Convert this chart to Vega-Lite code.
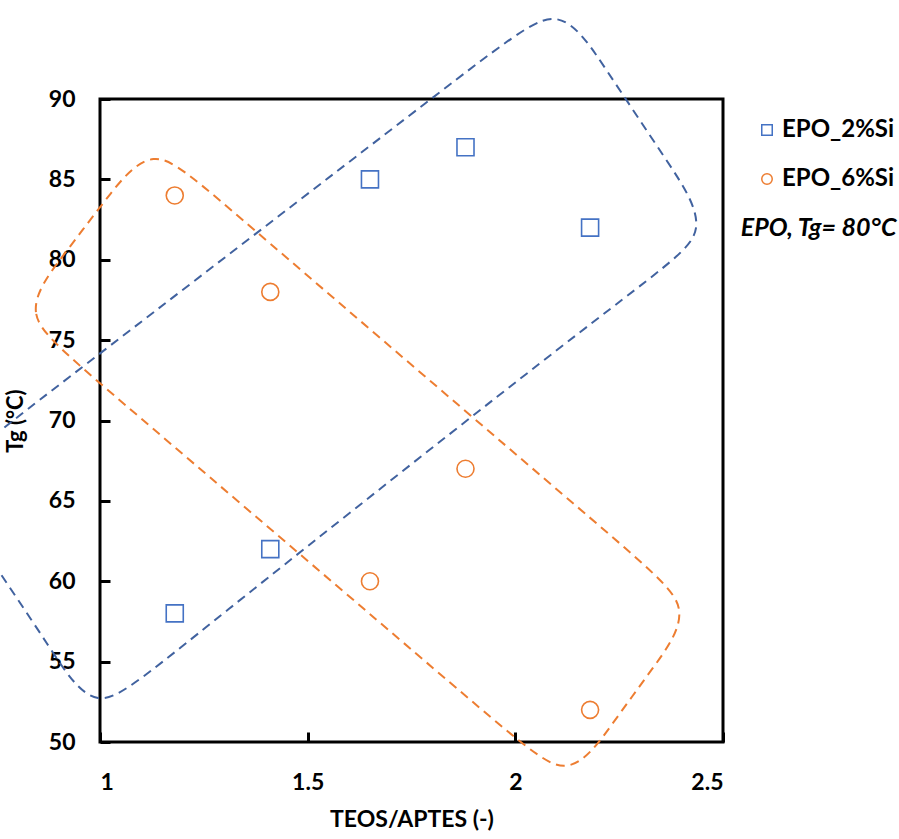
{
  "$schema": "https://vega.github.io/schema/vega-lite/v6.json",
  "width": 623,
  "height": 643,
  "autosize": {"type": "none"},
  "padding": {"left": 100, "top": 99, "right": 176, "bottom": 97},
  "background": "white",
  "config": {
    "font": "Lato",
    "view": {"stroke": "black", "strokeWidth": 3},
    "axis": {"grid": false, "domain": false, "labelFont": "Lato", "labelFontWeight": "bold", "labelColor": "black", "titleFont": "Lato", "titleFontWeight": "bold", "titleColor": "black", "tickColor": "black", "tickWidth": 3}
  },
  "datasets": {
    "outline": [
      {"shape": "EPO_2%Si", "i": 0, "x": 0.7145, "y": 62.23},
      {"shape": "EPO_2%Si", "i": 1, "x": 0.6069, "y": 66.36},
      {"shape": "EPO_2%Si", "i": 2, "x": 0.7598, "y": 69.40},
      {"shape": "EPO_2%Si", "i": 3, "x": 1.954, "y": 93.12},
      {"shape": "EPO_2%Si", "i": 4, "x": 2.107, "y": 96.16},
      {"shape": "EPO_2%Si", "i": 5, "x": 2.2137, "y": 92.02},
      {"shape": "EPO_2%Si", "i": 6, "x": 2.3642, "y": 86.18},
      {"shape": "EPO_2%Si", "i": 7, "x": 2.4811, "y": 81.64},
      {"shape": "EPO_2%Si", "i": 8, "x": 2.3199, "y": 78.95},
      {"shape": "EPO_2%Si", "i": 9, "x": 1.1391, "y": 54.83},
      {"shape": "EPO_2%Si", "i": 10, "x": 0.9879, "y": 51.44},
      {"shape": "EPO_2%Si", "i": 11, "x": 0.8804, "y": 55.87},
      {"shape": "EPO_6%Si", "i": 0, "x": 0.9421, "y": 73.59},
      {"shape": "EPO_6%Si", "i": 1, "x": 0.8047, "y": 76.63},
      {"shape": "EPO_6%Si", "i": 2, "x": 0.9139, "y": 80.35},
      {"shape": "EPO_6%Si", "i": 3, "x": 1.0113, "y": 83.67},
      {"shape": "EPO_6%Si", "i": 4, "x": 1.1256, "y": 87.39},
      {"shape": "EPO_6%Si", "i": 5, "x": 1.2578, "y": 84.35},
      {"shape": "EPO_6%Si", "i": 6, "x": 2.2977, "y": 61.34},
      {"shape": "EPO_6%Si", "i": 7, "x": 2.4349, "y": 58.30},
      {"shape": "EPO_6%Si", "i": 8, "x": 2.3288, "y": 54.52},
      {"shape": "EPO_6%Si", "i": 9, "x": 2.2347, "y": 51.17},
      {"shape": "EPO_6%Si", "i": 10, "x": 2.1286, "y": 47.39},
      {"shape": "EPO_6%Si", "i": 11, "x": 1.9911, "y": 50.42}
    ],
    "points": [
      {"series": "EPO_2%Si", "ratio": 1.18, "tg": 58},
      {"series": "EPO_2%Si", "ratio": 1.41, "tg": 62},
      {"series": "EPO_2%Si", "ratio": 1.65, "tg": 85},
      {"series": "EPO_2%Si", "ratio": 1.88, "tg": 87},
      {"series": "EPO_2%Si", "ratio": 2.18, "tg": 82},
      {"series": "EPO_6%Si", "ratio": 1.18, "tg": 84},
      {"series": "EPO_6%Si", "ratio": 1.41, "tg": 78},
      {"series": "EPO_6%Si", "ratio": 1.65, "tg": 60},
      {"series": "EPO_6%Si", "ratio": 1.88, "tg": 67},
      {"series": "EPO_6%Si", "ratio": 2.18, "tg": 52}
    ]
  },
  "layer": [
    {
      "data": {"name": "points"},
      "mark": {"type": "point", "filled": false, "strokeWidth": 1.6, "size": 290, "opacity": 1},
      "encoding": {
        "x": {"field": "ratio", "type": "quantitative",
          "scale": {"domain": [1, 2.5], "nice": false, "zero": false},
          "axis": {"values": [1, 1.5, 2, 2.5], "format": "~g", "labelFontSize": 23, "tickSize": -10, "labelPadding": 39, "title": "TEOS/APTES (-)", "titleFontSize": 23, "titlePadding": 14}},
        "y": {"field": "tg", "type": "quantitative",
          "scale": {"domain": [50, 90], "nice": false, "zero": false},
          "axis": {"values": [50, 55, 60, 65, 70, 75, 80, 85, 90], "labelFontSize": 23, "tickSize": -10, "labelPadding": 35, "title": "Tg (°C)", "titleFontSize": 22, "titlePadding": 21}},
        "color": {"field": "series", "type": "nominal",
          "scale": {"domain": ["EPO_2%Si", "EPO_6%Si"], "range": ["#4472C4", "#ED7D31"]},
          "legend": {"orient": "none", "legendX": 655, "legendY": 19, "title": null, "labelFontSize": 24, "labelFont": "Lato", "labelFontWeight": "bold", "labelColor": "black", "symbolSize": 110, "symbolStrokeWidth": 1.5, "rowPadding": 25, "labelOffset": 3, "padding": 0}},
        "shape": {"field": "series", "type": "nominal",
          "scale": {"domain": ["EPO_2%Si", "EPO_6%Si"], "range": ["square", "circle"]}}
      }
    },
    {
      "data": {"name": "outline"},
      "transform": [{"filter": "datum.shape === 'EPO_2%Si'"}],
      "mark": {"type": "line", "interpolate": "basis-closed", "stroke": "#41629F", "strokeWidth": 2, "strokeDash": [9, 6], "clip": false},
      "encoding": {
        "x": {"field": "x", "type": "quantitative"},
        "y": {"field": "y", "type": "quantitative"},
        "order": {"field": "i", "type": "quantitative"}
      }
    },
    {
      "data": {"name": "outline"},
      "transform": [{"filter": "datum.shape === 'EPO_6%Si'"}],
      "mark": {"type": "line", "interpolate": "basis-closed", "stroke": "#ED7D31", "strokeWidth": 2, "strokeDash": [9, 6], "clip": false},
      "encoding": {
        "x": {"field": "x", "type": "quantitative"},
        "y": {"field": "y", "type": "quantitative"},
        "order": {"field": "i", "type": "quantitative"}
      }
    },
    {
      "data": {"values": [{"label": "EPO, Tg= 80°C"}]},
      "mark": {"type": "text", "font": "Lato", "fontSize": 25, "fontStyle": "italic", "fontWeight": "bold", "align": "left", "baseline": "middle", "color": "black"},
      "encoding": {
        "text": {"field": "label", "type": "nominal"},
        "x": {"datum": 2.543, "type": "quantitative"},
        "y": {"datum": 81.95, "type": "quantitative"}
      }
    }
  ]
}
